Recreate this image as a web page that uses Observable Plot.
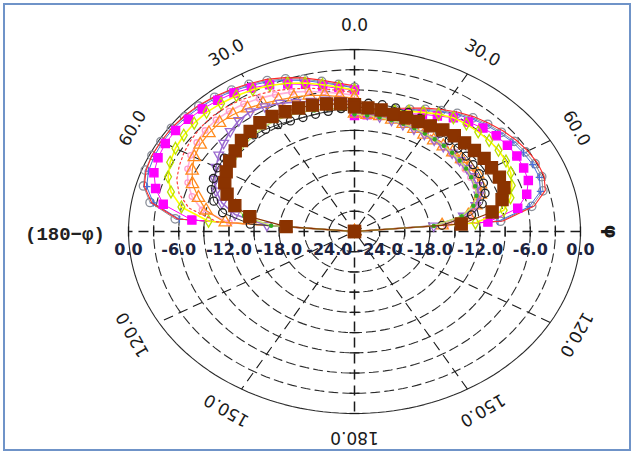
<!DOCTYPE html>
<html><head><meta charset="utf-8">
<script src="https://cdn.jsdelivr.net/npm/d3@7"></script>
<script src="https://cdn.jsdelivr.net/npm/@observablehq/plot@0.6"></script>
<style>
html,body{margin:0;padding:0;background:#fff;}
#wrap{position:relative;width:634px;height:454px;overflow:hidden;background:#fff;}
#frame{position:absolute;left:3px;top:3px;width:624px;height:444px;border:2px solid #6f93c8;pointer-events:none;}
</style></head>
<body><div id="wrap"><div id="chart"></div><div id="frame"></div></div>
<script>
// ---- data (dB vs angle theta, 0..90 deg from broadside) ----
const angles = [0,5,10,15,20,25,30,35,40,45,50,55,60,65,70,75,80,85,90];
const centerDb = -27;                       // value at pole
const ringValues = [-24,-21,-18,-15,-12,-9,-6,-3];
const outerRing = 0;
const radialLabels = [0,-6,-12,-18,-24];
const angleTicks = [30,60,120,150];
const spokeAngles = [0,30,60,90,120,150];

const grayLeft   = [-5.6,-5.1,-4.4,-3.6,-2.9,-2.3,-1.8,-1.4,-1.0,-0.7,-0.5,-0.3,-0.3,-0.3,-0.4,-0.9,-2.2,-5.5,-27];
const grayRight  = [-9.5,-9.2,-8.8,-8.3,-7.7,-7.0,-6.3,-5.6,-5.0,-4.5,-4.1,-3.7,-3.4,-3.2,-3.2,-3.7,-5.5,-9.5,-27];
const redLeft    = [-5.4,-4.9,-4.2,-3.4,-2.7,-2.1,-1.7,-1.3,-0.9,-0.6,-0.4,-0.3,-0.3,-0.3,-0.5,-1.0,-2.4,-5.8,-27];
const redRight   = [-9.3,-9.0,-8.6,-8.1,-7.5,-6.8,-6.1,-5.4,-4.8,-4.3,-3.8,-3.4,-3.1,-2.9,-2.9,-3.4,-5.2,-9.2,-27];
const blueLeft   = [-5.7,-5.2,-4.6,-3.8,-3.1,-2.5,-2.0,-1.6,-1.2,-0.9,-0.7,-0.5,-0.5,-0.6,-0.8,-1.3,-2.6,-6.0,-27];
const blueRight  = [-9.6,-9.3,-8.9,-8.4,-7.8,-7.2,-6.5,-5.8,-5.2,-4.7,-4.3,-3.9,-3.7,-3.5,-3.5,-4.0,-5.8,-9.8,-27];
const magLeft    = [-6.0,-5.7,-5.1,-4.4,-3.7,-3.0,-2.4,-1.9,-1.6,-1.3,-1.1,-0.9,-0.9,-1.1,-1.5,-2.4,-3.8,-7.5,-27];
const magRight   = [-9.8,-9.6,-9.3,-8.9,-8.4,-7.8,-7.2,-6.4,-5.8,-5.3,-4.9,-4.7,-4.6,-4.7,-4.9,-5.7,-7.2,-11.0,-27];
const yelLeft    = [-6.0,-5.5,-4.9,-4.2,-3.6,-3.1,-2.7,-2.4,-2.2,-2.0,-2.0,-2.1,-2.3,-2.7,-3.3,-4.3,-6.0,-9.5,-27];
const yelRight   = [-9.2,-9.1,-8.9,-8.5,-8.0,-7.5,-6.9,-6.4,-6.2,-6.1,-6.0,-6.0,-6.1,-6.4,-7.0,-7.7,-8.9,-12.5,-27];
const rdotLeft   = [-6.4,-6.0,-5.5,-5.0,-4.5,-4.0,-3.6,-3.2,-3.0,-2.9,-3.0,-3.2,-3.5,-3.9,-4.4,-5.3,-6.9,-10.5,-27];
const rdotRight  = [-9.3,-9.4,-9.5,-9.6,-9.8,-9.9,-10.0,-10.1,-10.2,-10.2,-10.2,-10.2,-10.3,-10.5,-10.9,-11.6,-12.9,-16.0,-27];
const pinkLeft   = [-6.8,-6.4,-6.0,-5.5,-5.0,-4.6,-4.2,-3.9,-3.7,-3.6,-3.7,-4.0,-4.4,-5.0,-5.8,-6.9,-8.5,-12.0,-27];
const pinkRight  = [-9.4,-9.5,-9.6,-9.7,-9.9,-10.1,-10.3,-10.5,-10.6,-10.7,-10.8,-10.9,-11.0,-11.1,-11.3,-11.8,-13.0,-16.0,-27];
const orgLeft    = [-7.2,-6.9,-6.5,-6.1,-5.8,-5.5,-5.1,-4.7,-4.4,-4.2,-4.3,-4.5,-4.9,-5.6,-6.4,-7.7,-9.0,-11.5,-27];
const orgRight   = [-9.5,-9.6,-9.6,-9.8,-10.0,-10.2,-10.4,-10.5,-10.5,-10.4,-10.3,-10.2,-10.0,-10.4,-11.0,-12.0,-13.2,-16.5,-27];
const purLeft    = [-7.8,-7.5,-7.2,-7.0,-6.6,-6.0,-5.6,-5.3,-5.5,-6.0,-6.6,-7.2,-7.9,-8.6,-9.4,-10.6,-12.5,-16.5,-27];
const purRight   = [-9.3,-9.5,-9.7,-9.9,-10.1,-10.2,-10.3,-10.4,-10.5,-10.5,-10.6,-10.6,-10.7,-10.8,-11.2,-12.0,-13.8,-17.5,-27];
const blkLeft    = [-8.5,-8.7,-8.9,-9.0,-9.0,-8.9,-8.7,-8.5,-8.3,-8.2,-8.1,-8.0,-8.1,-8.4,-8.8,-9.6,-11.0,-14.5,-27];
const blkRight   = [-8.0,-7.9,-7.9,-8.0,-8.2,-8.5,-8.9,-9.2,-9.4,-9.5,-9.6,-9.7,-9.8,-10.0,-10.4,-11.2,-12.8,-16.5,-27];
const grnLeft    = [-8.8,-8.7,-8.5,-8.4,-8.2,-8.1,-8.0,-8.1,-8.3,-8.6,-9.0,-9.4,-9.8,-10.3,-11.0,-12.0,-13.6,-17.0,-27];
const grnRight   = [-9.6,-9.7,-9.8,-9.9,-10.0,-10.1,-10.2,-10.3,-10.4,-10.5,-10.6,-10.7,-10.9,-11.1,-11.5,-12.3,-14.0,-17.5,-27];
const brnLeft    = [-8.2,-8.0,-7.8,-7.6,-7.5,-7.4,-7.3,-7.3,-7.6,-7.9,-8.4,-8.8,-9.3,-9.9,-10.8,-12.2,-14.3,-18.8,-27];
const brnRight   = [-8.5,-8.6,-8.7,-9.0,-9.05,-9.0,-8.9,-8.6,-8.45,-8.4,-8.3,-8.1,-8.1,-7.9,-8.0,-8.75,-10.3,-14.2,-27];

// ---- styles ----
const series = [
  {left: grayLeft,  right: grayRight,  stroke:"#8a8f99", line:"#8a8f99", symbol:"circle",   fill:"none",    r:4.2, lw:1},
  {left: blueLeft,  right: blueRight,  stroke:"#4a6fd8", line:"#4a6fd8", symbol:"plus",     fill:"none",    r:2.5, lw:1},
  {left: redLeft,   right: redRight,   stroke:"#ff2a2a", line:"#ff2a2a", symbol:null,       fill:"none",    r:0,   lw:1.1},
  {left: magLeft,   right: magRight,   stroke:"#ff00ff", line:"#ff00ff", symbol:"square",   fill:"#ff00ff", r:4.6, lw:1},
  {left: yelLeft,   right: yelRight,   stroke:"#b8e000", line:"#ffff00", symbol:"diamond",  fill:"none",    r:3.6, lw:1.6},
  {left: rdotLeft,  right: rdotRight,  stroke:"#ff4040", line:"#ff4040", symbol:null,       fill:"none",    r:0,   lw:1.2, dash:"2,3"},
  {left: pinkLeft,  right: pinkRight,  stroke:"#ff9ccf", line:"#ffb0d8", symbol:"circle",   fill:"none",    r:2.8, lw:1.6},
  {left: orgLeft,   right: orgRight,   stroke:"#ff8a1e", line:"#ff8a1e", symbol:"triangle", fill:"none",    r:4.6, lw:1.2},
  {left: purLeft,   right: purRight,   stroke:"#9b6ad0", line:"#9b6ad0", symbol:"triangle2",fill:"none",    r:3.6, lw:1.6, flip:true},
  {left: blkLeft,   right: blkRight,   stroke:"#222222", line:"#333333", symbol:"circle",   fill:"none",    r:4.0, lw:1},
  {left: grnLeft,   right: grnRight,   stroke:"#33aa22", line:"#c8e86a", symbol:"circle",   fill:"#33aa22", r:1.6, lw:1.4},
  {left: brnLeft,   right: brnRight,   stroke:"#8b3300", line:"#8b3300", symbol:"square",   fill:"#8b3300", r:6.8, lw:1.2}
];

const rad = d => d * Math.PI / 180;
const px = (db, th, side) => side * (db - centerDb) * Math.sin(rad(th));
const py = (db, th) => (db - centerDb) * Math.cos(rad(th));

// down-pointing triangle symbol
const triDown = {draw(ctx, size) {
  const s = Math.sqrt(size / (Math.sqrt(3) / 4)) ;
  const h = s * Math.sqrt(3) / 2;
  ctx.moveTo(0, h * 2 / 3); ctx.lineTo(s / 2, -h / 3); ctx.lineTo(-s / 2, -h / 3); ctx.closePath();
}};
const hTick = {draw(ctx) { ctx.moveTo(-5, 0); ctx.lineTo(5, 0); }};
const vTick = {draw(ctx) { ctx.moveTo(0, -5); ctx.lineTo(0, 5); }};

// ---- grid ----
const circAngles = d3.range(0, 361, 2);
const ringRows = [];
for (const v of ringValues) for (const a of circAngles) ringRows.push({v, a});
const outerRows = circAngles.map(a => ({v: outerRing, a}));
const spokes = spokeAngles.map(a => ({a}));
const R = outerRing - centerDb;

const tickRows = [];
for (const v of [...ringValues, outerRing]) for (const s of [-1, 1]) tickRows.push({v, s});

const marks = [];
marks.push(Plot.line(ringRows, {x: d => (d.v - centerDb) * Math.sin(rad(d.a)), y: d => (d.v - centerDb) * Math.cos(rad(d.a)), z: "v", stroke: "#2a2a2a", strokeWidth: 1.1, strokeDasharray: "9,5"}));
marks.push(Plot.line(outerRows, {x: d => R * Math.sin(rad(d.a)), y: d => R * Math.cos(rad(d.a)), stroke: "#2a2a2a", strokeWidth: 1.1}));
marks.push(Plot.link(spokes, {x1: d => R * Math.sin(rad(d.a)), y1: d => R * Math.cos(rad(d.a)), x2: d => -R * Math.sin(rad(d.a)), y2: d => -R * Math.cos(rad(d.a)), stroke: "#1a1a1a", strokeWidth: d => (d.a % 90 === 0 ? 1.5 : 1.1), strokeDasharray: "10,6"}));
marks.push(Plot.dot(tickRows, {x: 0, y: d => d.s * (d.v - centerDb), symbol: hTick, stroke: "#1a1a1a", strokeWidth: 1.3}));
marks.push(Plot.dot(tickRows, {x: d => d.s * (d.v - centerDb), y: 0, symbol: vTick, stroke: "#1a1a1a", strokeWidth: 1.3}));

// ---- series ----
for (const s of series) {
  const rows = [];
  for (const side of [-1, 1]) {
    const vals = side < 0 ? s.left : s.right;
    angles.forEach((th, i) => rows.push({th, db: vals[i], side}));
  }
  marks.push(Plot.line(rows, {x: d => px(d.db, d.th, d.side), y: d => py(d.db, d.th), z: "side", stroke: s.line, strokeWidth: s.lw, strokeDasharray: s.dash}));
  if (s.symbol) {
    marks.push(Plot.dot(rows, {x: d => px(d.db, d.th, d.side), y: d => py(d.db, d.th),
      symbol: s.flip ? triDown : s.symbol, r: s.r, stroke: s.stroke, fill: s.fill, strokeWidth: 1.3}));
  }
}

// ---- labels ----
const labelR = 30.6;
const radRows = [];
for (const v of radialLabels) for (const side of [-1, 1]) radRows.push({v, side});
marks.push(Plot.text(radRows, {x: d => d.side * (d.v - centerDb), y: 0, dy: 18, text: d => d.v.toFixed(1),
  fontFamily: "DejaVu Sans", fontWeight: "bold", fontSize: 16, fill: "#1c2340"}));

const angRows = [{a: 0, side: 1}, {a: 180, side: 1}];
for (const a of angleTicks) for (const side of [-1, 1]) angRows.push({a, side});
marks.push(Plot.text(angRows, {x: d => d.side * labelR * Math.sin(rad(d.a)), y: d => labelR * Math.cos(rad(d.a)),
  text: d => d.a.toFixed(1), rotate: d => d.side * d.a, fontFamily: "DejaVu Sans", fontSize: 17, fill: "#1a1a1a"}));

marks.push(Plot.text([{t: "φ", a: 90}], {x: d => labelR * Math.sin(rad(d.a)), y: 0, text: "t", rotate: 90,
  fontFamily: "DejaVu Sans", fontWeight: "bold", fontSize: 18, fill: "#1a1a1a"}));
marks.push(Plot.text([{t: "(180−φ)"}], {x: -(labelR + 4), y: 0, dy: 2, text: "t",
  fontFamily: "Liberation Mono", fontWeight: "bold", fontSize: 19, fill: "#222"}));

const chart = Plot.plot({
  width: 634, height: 454, margin: 0,
  x: {domain: [-27, 27], range: [128, 580], axis: null},
  y: {domain: [-27, 27], range: [413, 49], axis: null},
  style: {background: "white", overflow: "visible"},
  marks
});
document.getElementById("chart").appendChild(chart);
</script></body></html>
